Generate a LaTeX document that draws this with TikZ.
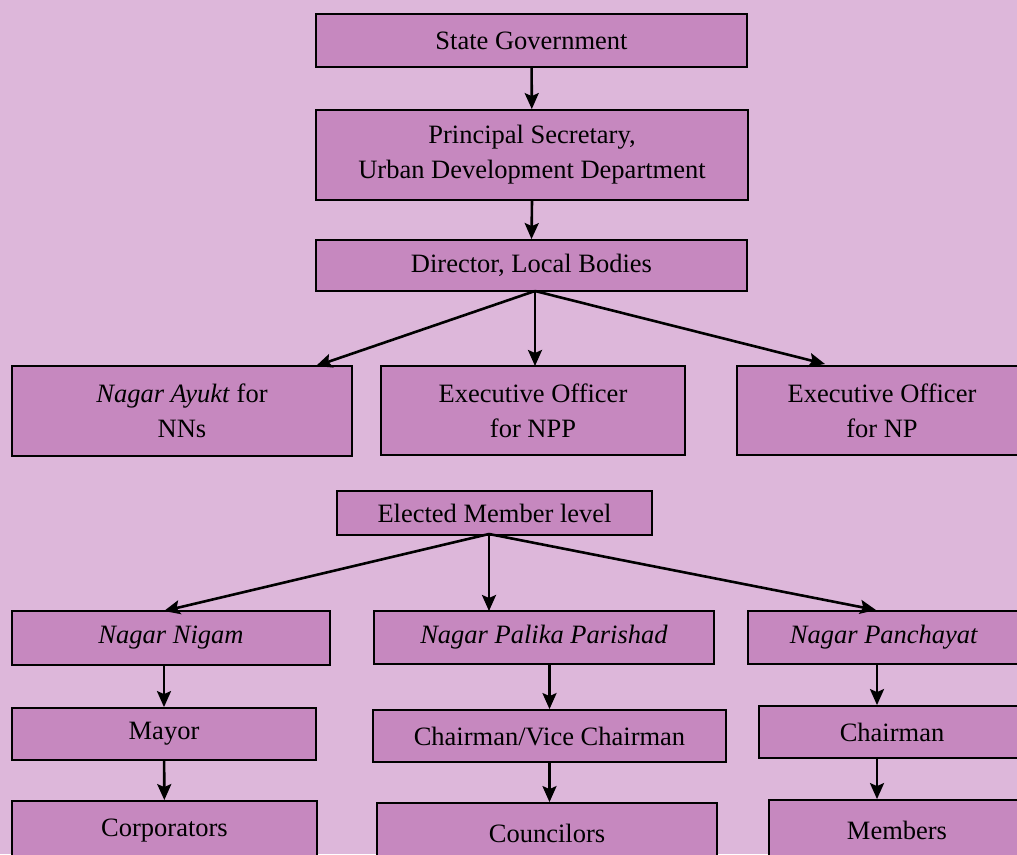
\documentclass[tikz,border=0pt]{standalone}
\usepackage{fontspec}
\setmainfont{Liberation Serif}
\usetikzlibrary{arrows.meta}
\definecolor{pagebg}{RGB}{221,183,218}
\definecolor{boxfill}{RGB}{198,136,191}

\begin{document}
\begin{tikzpicture}[
      x = 1pt, y = -1pt,
      every node/.style = {
        rectangle, draw, black, fill = boxfill, line width = 1.8pt,
        inner sep = 0pt, align = center, font = \fontsize{26.5}{35}\selectfont},
      link/.style = {draw, black, line width = 2.6pt,
        -{Stealth[length=16pt, width=14pt, inset=3pt]}}
      ]
    \clip (0,0) rectangle (1017,854);
    \fill[pagebg] (0,0) rectangle (1017,854);

    \node[minimum width=431, minimum height=53] (SG) at (531.5,40.5) {State Government}; % 0
    \node[minimum width=432, minimum height=90] (PS) at (532,155) {Principal Secretary,\\Urban Development Department}; % 1
    \node[minimum width=431, minimum height=51] (DL) at (531.5,265.5) {Director, Local Bodies}; % 2
    \node[minimum width=340, minimum height=90] (NA) at (182,411) {\textit{Nagar Ayukt} for\\NNs}; % 3
    \node[minimum width=304, minimum height=89] (EP) at (533,410.5) {Executive Officer\\for NPP}; % 4
    \node[minimum width=290, minimum height=89] (EN) at (882,410.5) {Executive Officer\\for NP}; % 5

    \node[minimum width=315, minimum height=44] (EM) at (494.5,513) {Elected Member level}; % 6
    \node[minimum width=318, minimum height=54] (NG) at (171,638) {\textit{Nagar Nigam}}; % 7
    \node[minimum width=340, minimum height=53] (PP) at (544,637.5) {\textit{Nagar Palika Parishad}}; % 8
    \node[minimum width=272, minimum height=53] (PY) at (884,637.5) {\textit{Nagar Panchayat}}; % 9
    \node[minimum width=304, minimum height=52] (MY) at (164,734) {Mayor}; % 10
    \node[minimum width=353, minimum height=52] (CV) at (549.5,736) {Chairman/Vice Chairman}; % 11
    \node[minimum width=266, minimum height=52] (CH) at (892,732) {Chairman}; % 12
    \node[minimum width=305, minimum height=60] (CO) at (164.5,831) {Corporators}; % 13
    \node[minimum width=340, minimum height=60] (CL) at (547,833) {Councilors}; % 14
    \node[minimum width=256, minimum height=60] (MB) at (897,830) {Members}; % 15

    \coordinate (dl) at (535,291);
    \coordinate (em) at (489,534);

    \draw[link] (SG) -- (PS);
    \draw[link] (PS.south) -- (DL.north);
    \draw[link] (dl) -- (316,366);
    \draw[link] (dl) -- (535,366);
    \draw[link] (dl) -- (825,364);
    \draw[link] (em) -- (164,611);
    \draw[link] (em) -- (489,611);
    \draw[link] (em) -- (876,610);

    \draw[link] (NG.south -| MY.north) -- (MY.north);
    \draw[link] (MY) -- (CO);
    \draw[link] (PP.south -| CV.north) -- (CV.north);
    \draw[link] (CV.south) -- (CV.south |- CL.north);
    \draw[link] (PY.south -| 877,0) -- (CH.north -| 877,0);
    \draw[link] (CH.south -| 877,0) -- (MB.north -| 877,0);
  \end{tikzpicture}
\end{document}
